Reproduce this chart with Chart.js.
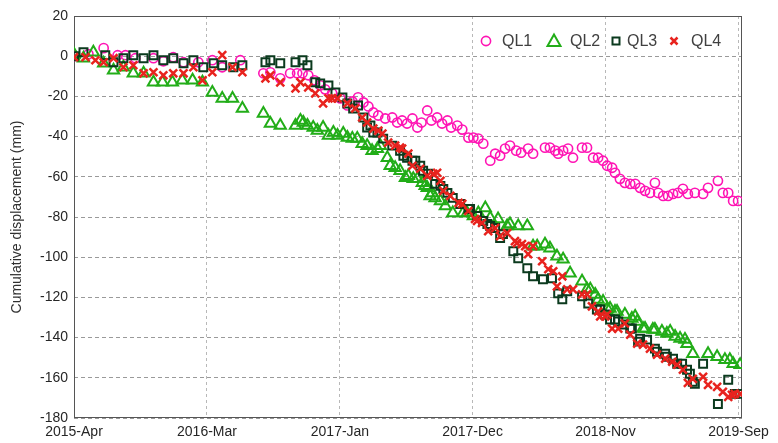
<!DOCTYPE html>
<html>
<head>
<meta charset="utf-8">
<title>Cumulative displacement</title>
<script src="https://cdn.jsdelivr.net/npm/chart.js@4.4.0/dist/chart.umd.min.js"></script>
<style>
  html, body { margin: 0; padding: 0; background: #fff; }
  #wrap { width: 778px; height: 443px; }
</style>
</head>
<body>
<div id="wrap"><canvas id="dispChart" width="778" height="443"></canvas></div>
<script>
// x values are days counted from 2015-04-01, y values in mm
const xTickDays = [0, 323, 646, 968, 1291, 1614];
const xTickLabels = ['2015-Apr', '2016-Mar', '2017-Jan', '2017-Dec', '2018-Nov', '2019-Sep'];
const seriesNames = ['QL1', 'QL2', 'QL3', 'QL4'];

const ql1Days = [0,35,72,106,125,149,193,217,241,266,302,336,360,404,460,477,501,525,542,555,569,584,598,610,627,647,664,676,690,703,715,727,739,756,773,785,797,809,822,834,844,858,868,882,894,907,916,931,943,958,970,982,994,1011,1023,1035,1047,1059,1074,1086,1103,1115,1144,1156,1169,1176,1188,1200,1212,1234,1246,1261,1273,1285,1295,1307,1314,1326,1338,1351,1363,1375,1387,1399,1411,1419,1431,1443,1455,1467,1479,1491,1508,1528,1540,1564,1576,1589,1601,1613];
const ql1Mm = [0,1,4,0.5,0.5,-1,-1,-2.5,-0.5,-3,-3,-2,-5.5,-2,-8.5,-8,-11,-8.5,-8.5,-8.5,-9.5,-12,-14.5,-16.5,-18.5,-21,-24.5,-22.5,-20.5,-23,-25,-28,-29.5,-31,-30.5,-33,-32,-33.5,-31,-35.5,-33,-27,-32,-30.5,-33.5,-32,-35.5,-34.5,-36.5,-40.5,-40.5,-41,-43.5,-52,-48.5,-49.5,-46,-44.5,-47,-48,-46,-48.5,-45.5,-45.5,-47,-48.5,-47,-46,-50.5,-45.5,-45.5,-50.5,-50.5,-52,-54.5,-55.5,-58,-61,-63,-63.5,-63.5,-65.5,-67,-68,-63,-68,-69.5,-69.5,-68.5,-68,-66,-68.5,-68,-68.5,-65.5,-62,-68,-68,-72,-72];

const ql2Days = [0,23,47,72,96,120,144,169,193,215,239,263,288,312,336,360,385,409,460,477,501,538,550,557,567,581,591,605,618,630,640,654,664,676,688,700,712,724,737,744,761,768,780,792,805,812,824,834,846,853,858,865,870,877,890,902,920,945,955,970,982,999,1011,1030,1052,1059,1079,1101,1115,1125,1144,1156,1173,1188,1205,1234,1246,1254,1266,1273,1285,1295,1302,1314,1319,1338,1355,1363,1368,1382,1387,1406,1411,1428,1440,1448,1460,1472,1484,1489,1503,1540,1562,1581,1593,1601,1618];
const ql2Mm = [1,-1,2,-3.5,-7,-5.5,-8.5,-8.5,-13,-13,-13,-12,-12,-13,-18,-21,-21,-26,-28.5,-33.5,-34.5,-34.5,-32,-33,-34.5,-35.5,-37,-35.5,-39.5,-38,-39.5,-38.5,-40.5,-41,-41,-43.5,-44.5,-47,-46,-44.5,-50.5,-54.5,-55.5,-57,-60.5,-59.5,-61,-61,-63,-64.5,-65.5,-69.5,-68,-70.5,-72,-74.5,-78,-78,-78,-79.5,-78,-75.5,-80.5,-81,-84.5,-83.5,-84.5,-84.5,-94.5,-94.5,-93.5,-95.5,-99.5,-101,-108,-112,-116,-116,-118.5,-121,-122,-125.5,-125.5,-127,-127,-128.5,-130.5,-129.5,-132,-135.5,-135.5,-136,-136,-137,-138,-137,-139.5,-140.5,-141,-143,-148,-148,-149.5,-151,-151,-153,-153.5];

const ql3Days = [0,23,76,96,120,144,169,193,217,241,266,290,314,339,360,387,409,465,477,501,538,555,567,586,598,618,635,652,664,678,690,703,712,720,727,737,751,773,792,800,809,822,829,841,848,860,877,890,897,907,920,938,958,962,979,994,1004,1011,1023,1035,1042,1067,1079,1101,1115,1139,1161,1176,1186,1198,1234,1249,1270,1278,1290,1302,1314,1322,1334,1351,1355,1370,1375,1392,1411,1416,1436,1440,1455,1465,1477,1489,1496,1503,1508,1528,1564,1589,1605,1618];
const ql3Mm = [0,2,0.5,-3,-1,0.5,-1,0.5,-2,-1,-3.5,-2,-5.5,-3.5,-4.5,-5.5,-4.5,-3,-2,-3.5,-3,-2,-4.5,-13,-13.5,-14.5,-18,-20.5,-23.5,-26,-24.5,-30.5,-35.5,-34.5,-38,-38,-41,-44.5,-47,-49.5,-50.5,-52,-52,-54.5,-57,-58.5,-63.5,-64.5,-66,-68,-70.5,-73.5,-76,-76,-79.5,-82,-83.5,-84.5,-85.5,-90.5,-88.5,-97,-100.5,-105.5,-109.5,-111,-110.5,-118,-121,-117,-119.5,-123,-126,-126,-128.5,-131,-131,-132,-133.5,-135.5,-135.5,-142,-140.5,-141,-145.5,-147,-148,-149.5,-150.5,-153,-153,-156,-158,-162,-163,-153,-173,-161,-168,-168];

const ql4Days = [0,28,52,72,96,120,144,169,193,217,241,266,290,312,336,360,385,409,465,477,501,538,550,569,586,605,618,627,640,664,683,700,712,727,739,749,763,780,792,797,812,822,841,858,873,882,890,897,914,934,943,958,974,979,991,1006,1023,1035,1052,1071,1076,1088,1096,1103,1115,1137,1152,1164,1173,1186,1198,1212,1234,1246,1258,1273,1278,1290,1295,1307,1322,1338,1351,1368,1382,1399,1416,1436,1453,1465,1479,1491,1503,1528,1540,1562,1576,1589,1598,1605,1618];
const ql4Mm = [-0.5,-0.5,-2,-3,-1,-5.5,-4.5,-8.5,-8,-9.5,-8.5,-8.5,-5.5,-12,-8,0.5,-5.5,-8,-11,-9.5,-13,-16,-13,-15.5,-18.5,-23.5,-21,-21,-21,-23.5,-26,-30.5,-33,-36,-37,-38.5,-43,-44.5,-45.5,-46,-48.5,-54.5,-56,-59.5,-58.5,-58,-62,-67,-69.5,-73,-73.5,-77,-81,-82,-83,-87,-85.5,-89.5,-88,-92,-93,-93.5,-94.5,-98.5,-94.5,-102,-106,-107,-114.5,-109.5,-116,-116,-118.5,-118.5,-124.5,-127,-129.5,-129.5,-128.5,-135.5,-135.5,-133,-138.5,-143,-143.5,-145.5,-148.5,-150.5,-152,-153.5,-156,-162.5,-160.5,-159.5,-163.5,-164.5,-167,-169.5,-168.5,-168,-168];

const FONT = '"Liberation Sans", Arial, Helvetica, sans-serif';
Chart.defaults.font.family = FONT;
Chart.defaults.color = '#262626';

function pairUp(days, mm) {
    const n = Math.min(days.length, mm.length);
    const out = [];
    for (let i = 0; i < n; i++) out.push({ x: days[i], y: mm[i] });
    return out;
}

const styles = [
    { color: '#ff14b4', pointStyle: 'circle',   radius: 4.6, width: 1.6, order: 4 },
    { color: '#22ad18', pointStyle: 'triangle', radius: 6.5, width: 2,   order: 3 },
    { color: '#0b3a1e', pointStyle: 'rect',     radius: 5.6, width: 2,   order: 2 },
    { color: '#e8231e', pointStyle: 'crossRot', radius: 5.6, width: 2.5, order: 1 }
];
const allData = [pairUp(ql1Days, ql1Mm), pairUp(ql2Days, ql2Mm), pairUp(ql3Days, ql3Mm), pairUp(ql4Days, ql4Mm)];

// box round the plot, like the original axes
const boxPlugin = {
    id: 'axesBox',
    beforeDatasetsDraw(chart) {
        const { ctx, chartArea: a } = chart;
        ctx.save();
        ctx.strokeStyle = '#555';
        ctx.lineWidth = 1;
        ctx.strokeRect(a.left + 0.5, a.top + 0.5, a.right - a.left - 1, a.bottom - a.top - 1);
        ctx.restore();
    }
};

// legend drawn inside the plot, top right
const legendSlots = [[-256, -240], [-188, -172], [-126, -115], [-68, -51]];
const legendPlugin = {
    id: 'legendInside',
    afterDatasetsDraw(chart) {
        const { ctx, chartArea: a } = chart;
        const y = a.top + 25;
        ctx.save();
        ctx.font = '16px ' + FONT;
        ctx.textBaseline = 'middle';
        seriesNames.forEach(function (name, i) {
            const mx = a.right + legendSlots[i][0];
            const tx = a.right + legendSlots[i][1];
            ctx.strokeStyle = styles[i].color;
            ctx.lineWidth = styles[i].width;
            ctx.beginPath();
            if (i === 0) {
                ctx.arc(mx, y, 4.6, 0, Math.PI * 2);
            } else if (i === 1) {
                ctx.moveTo(mx, y - 6.5);
                ctx.lineTo(mx - 6.5, y + 5);
                ctx.lineTo(mx + 6.5, y + 5);
                ctx.closePath();
            } else if (i === 2) {
                ctx.rect(mx - 3.5, y - 3.5, 7, 7);
            } else {
                ctx.moveTo(mx - 3.5, y - 3.5); ctx.lineTo(mx + 3.5, y + 3.5);
                ctx.moveTo(mx + 3.5, y - 3.5); ctx.lineTo(mx - 3.5, y + 3.5);
            }
            ctx.stroke();
            ctx.fillStyle = '#404040';
            ctx.fillText(name, tx, y + 1);
        });
        ctx.restore();
    }
};

new Chart(document.getElementById('dispChart').getContext('2d'), {
    type: 'scatter',
    data: {
        datasets: seriesNames.map(function (name, i) {
            const s = styles[i];
            return {
                label: name,
                data: allData[i],
                showLine: false,
                pointStyle: s.pointStyle,
                pointRadius: s.radius,
                pointHoverRadius: s.radius,
                pointBorderWidth: s.width,
                borderColor: s.color,
                backgroundColor: 'rgba(0,0,0,0)',
                order: s.order
            };
        })
    },
    options: {
        responsive: false,
        animation: false,
        devicePixelRatio: 1,
        layout: { padding: { left: 0, right: 36, top: 16, bottom: 0 } },
        plugins: {
            legend: { display: false },
            tooltip: { enabled: false }
        },
        scales: {
            x: {
                type: 'linear',
                min: 0,
                max: 1622.5,
                afterFit: function (scale) { scale.height = 25; },
                afterBuildTicks: function (scale) {
                    scale.ticks = xTickDays.map(function (v) { return { value: v }; });
                },
                ticks: {
                    autoSkip: false,
                    maxRotation: 0,
                    padding: 6,
                    font: { size: 14 },
                    color: '#262626',
                    callback: function (value, index) { return xTickLabels[index]; }
                },
                grid: { color: '#b8b8b8', lineWidth: 1, drawTicks: false },
                border: { display: false, dash: [3, 3] }
            },
            y: {
                min: -180,
                max: 20,
                afterFit: function (scale) { scale.width = 74; },
                ticks: {
                    stepSize: 20,
                    padding: 6,
                    font: { size: 14 },
                    color: '#262626'
                },
                title: {
                    display: true,
                    text: 'Cumulative displacement (mm)',
                    font: { size: 14 },
                    color: '#303030',
                    padding: { top: 9, bottom: 0 }
                },
                grid: { color: '#9a9a9a', lineWidth: 1, drawTicks: false },
                border: { display: false, dash: [4, 3] }
            }
        }
    },
    plugins: [boxPlugin, legendPlugin]
});
</script>
</body>
</html>
